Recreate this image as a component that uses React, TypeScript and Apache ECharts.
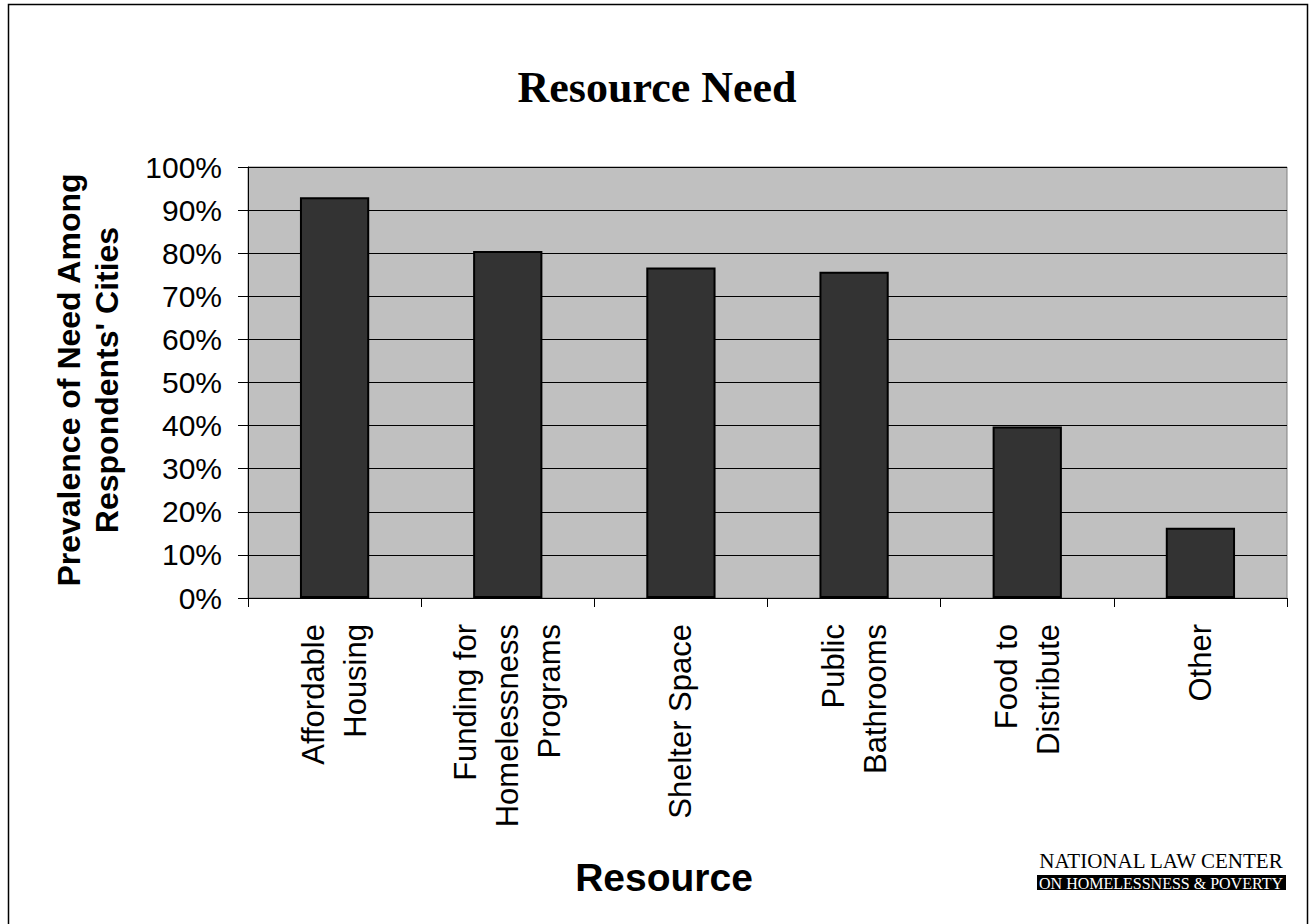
import React, { useEffect, useRef } from "react";
import * as echarts from "echarts";

const categories = [
  "Affordable\nHousing",
  "Funding for\nHomelessness\nPrograms",
  "Shelter Space",
  "Public\nBathrooms",
  "Food to\nDistribute",
  "Other",
];
const values = [93, 80.5, 76.7, 75.7, 39.8, 16.3];
const yTicks = { min: 0, max: 100, interval: 10 };

export default function App() {
  const ref = useRef<HTMLDivElement>(null);
  useEffect(() => {
    if (!ref.current) return;
    const chart = echarts.init(ref.current, null, { renderer: "svg" });
    chart.setOption({
      animation: false,
      backgroundColor: "#ffffff",
      grid: {
        left: 248,
        top: 167,
        right: 24,
        bottom: 326,
        show: true,
        backgroundColor: "#c0c0c0",
        borderColor: "#808080",
        borderWidth: 1,
      },
      xAxis: {
        type: "category",
        data: categories,
        axisLine: { show: true, lineStyle: { color: "#000", width: 1 } },
        axisTick: { show: true, length: 9, lineStyle: { color: "#000" } },
        axisLabel: {
          rotate: 90,
          interval: 0,
          margin: 26,
          fontSize: 31,
          lineHeight: 42,
          color: "#000",
          fontFamily: "Liberation Sans",
        },
      },
      yAxis: {
        type: "value",
        min: yTicks.min,
        max: yTicks.max,
        interval: yTicks.interval,
        axisLine: { show: true, lineStyle: { color: "#000", width: 1 } },
        axisTick: { show: true, length: 10, lineStyle: { color: "#000" } },
        axisLabel: {
          formatter: "{value}%",
          margin: 26,
          fontSize: 30,
          color: "#000",
          fontFamily: "Liberation Sans",
        },
        splitLine: { show: true, lineStyle: { color: "#000", width: 1 } },
      },
      series: [
        {
          type: "bar",
          data: values,
          barWidth: "40%",
          itemStyle: { color: "#333333", borderColor: "#000", borderWidth: 2 },
        },
      ],
      graphic: [
        {
          type: "rect",
          shape: { x: 8.5, y: 4.5, width: 1299, height: 930 },
          style: { fill: "none", stroke: "#000", lineWidth: 1.5 },
          silent: true,
        },
        {
          type: "text",
          x: 657,
          y: 87,
          style: {
            text: "Resource Need",
            font: "bold 44px 'Liberation Serif'",
            fill: "#000",
            textAlign: "center",
            textVerticalAlign: "middle",
          },
        },
        {
          type: "text",
          x: 88,
          y: 380,
          rotation: Math.PI / 2,
          style: {
            text: "Prevalence of Need Among\nRespondents' Cities",
            font: "bold 32px 'Liberation Sans'",
            lineHeight: 38,
            fill: "#000",
            textAlign: "center",
            textVerticalAlign: "middle",
          },
        },
        {
          type: "text",
          x: 664,
          y: 877,
          style: {
            text: "Resource",
            font: "bold 39px 'Liberation Sans'",
            fill: "#000",
            textAlign: "center",
            textVerticalAlign: "middle",
          },
        },
        {
          type: "text",
          x: 1161,
          y: 861,
          style: {
            text: "NATIONAL LAW CENTER",
            font: "21px 'Liberation Serif'",
            fill: "#000",
            textAlign: "center",
            textVerticalAlign: "middle",
          },
        },
        {
          type: "rect",
          shape: { x: 1037, y: 875, width: 249, height: 15 },
          style: { fill: "#000" },
        },
        {
          type: "text",
          x: 1161,
          y: 883,
          style: {
            text: "ON HOMELESSNESS & POVERTY",
            font: "16px 'Liberation Serif'",
            fill: "#fff",
            textAlign: "center",
            textVerticalAlign: "middle",
          },
        },
      ],
    });
    return () => chart.dispose();
  }, []);
  return (
    <div
      ref={ref}
      style={{ position: "absolute", left: 0, top: 0, width: 1311, height: 924 }}
    />
  );
}
